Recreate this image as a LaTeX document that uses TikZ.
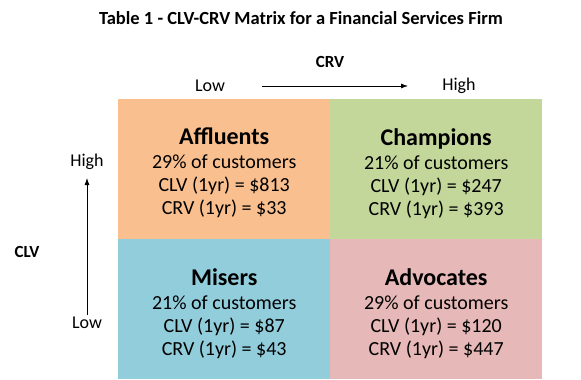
\documentclass[tikz,border=0pt]{standalone}
\usepackage{fontspec}
\setmainfont{Carlito}
\usetikzlibrary{arrows.meta}
\definecolor{qorange}{HTML}{FABF8F}
\definecolor{qgreen}{HTML}{C4D79B}
\definecolor{qblue}{HTML}{92CDDC}
\definecolor{qpink}{HTML}{E6B8B7}
\tikzset{
  quad/.style={draw=none, minimum width=212pt, minimum height=140pt, inner sep=0pt, anchor=north west},
  qtext/.style={align=center, inner sep=0pt, font=\fontsize{20}{23}\selectfont},
  axlabel/.style={inner sep=0pt, font=\fontsize{18}{22}\selectfont},
  axtitle/.style={inner sep=0pt, font=\fontsize{17}{20}\selectfont\bfseries},
  axarrow/.style={-{Latex[length=7pt,width=5pt]}, line width=0.8pt}
}
\newcommand{\qhead}[1]{{\fontsize{24}{26}\selectfont\bfseries #1}\\[1pt]}
\begin{document}
\begin{tikzpicture}[x=1pt,y=-1pt]
\useasboundingbox (0,0) rectangle (581,380);
\node[inner sep=0pt, font=\fontsize{18.5}{21}\selectfont\bfseries] (title) at (301,18) {Table 1 - CLV-CRV Matrix for a Financial Services Firm};
\node[axtitle] (crv) at (330,62) {CRV};
\node[axlabel] (xlow) at (210,86) {Low};
\node[axlabel] (xhigh) at (459,86) {High};
\coordinate (xa) at (262,86);
\coordinate (xb) at (408,86);
\draw[axarrow] (xa) -- (xb);
\node[axtitle] (clv) at (27,252) {CLV};
\node[axlabel] (yhigh) at (87,162) {High};
\node[axlabel] (ylow) at (87,323) {Low};
\coordinate (ya) at (87,315);
\coordinate (yb) at (87,178);
\draw[axarrow] (ya) -- (yb);
\node[quad, fill=qorange] (aff) at (118,99) {};
\node[quad, fill=qgreen] (cha) at (330,99) {};
\node[quad, fill=qblue] (mis) at (118,239) {};
\node[quad, fill=qpink] (adv) at (330,239) {};
\node[qtext] (afft) at ([yshift=-4pt]aff.center) {\qhead{Affluents}29\% of customers\\CLV (1yr) = \$813\\CRV (1yr) = \$33};
\node[qtext] (chat) at ([yshift=-4pt]cha.center) {\qhead{Champions}21\% of customers\\CLV (1yr) = \$247\\CRV (1yr) = \$393};
\node[qtext] (mist) at ([yshift=-4pt]mis.center) {\qhead{Misers}21\% of customers\\CLV (1yr) = \$87\\CRV (1yr) = \$43};
\node[qtext] (advt) at ([yshift=-4pt]adv.center) {\qhead{Advocates}29\% of customers\\CLV (1yr) = \$120\\CRV (1yr) = \$447};
\end{tikzpicture}
\end{document}
